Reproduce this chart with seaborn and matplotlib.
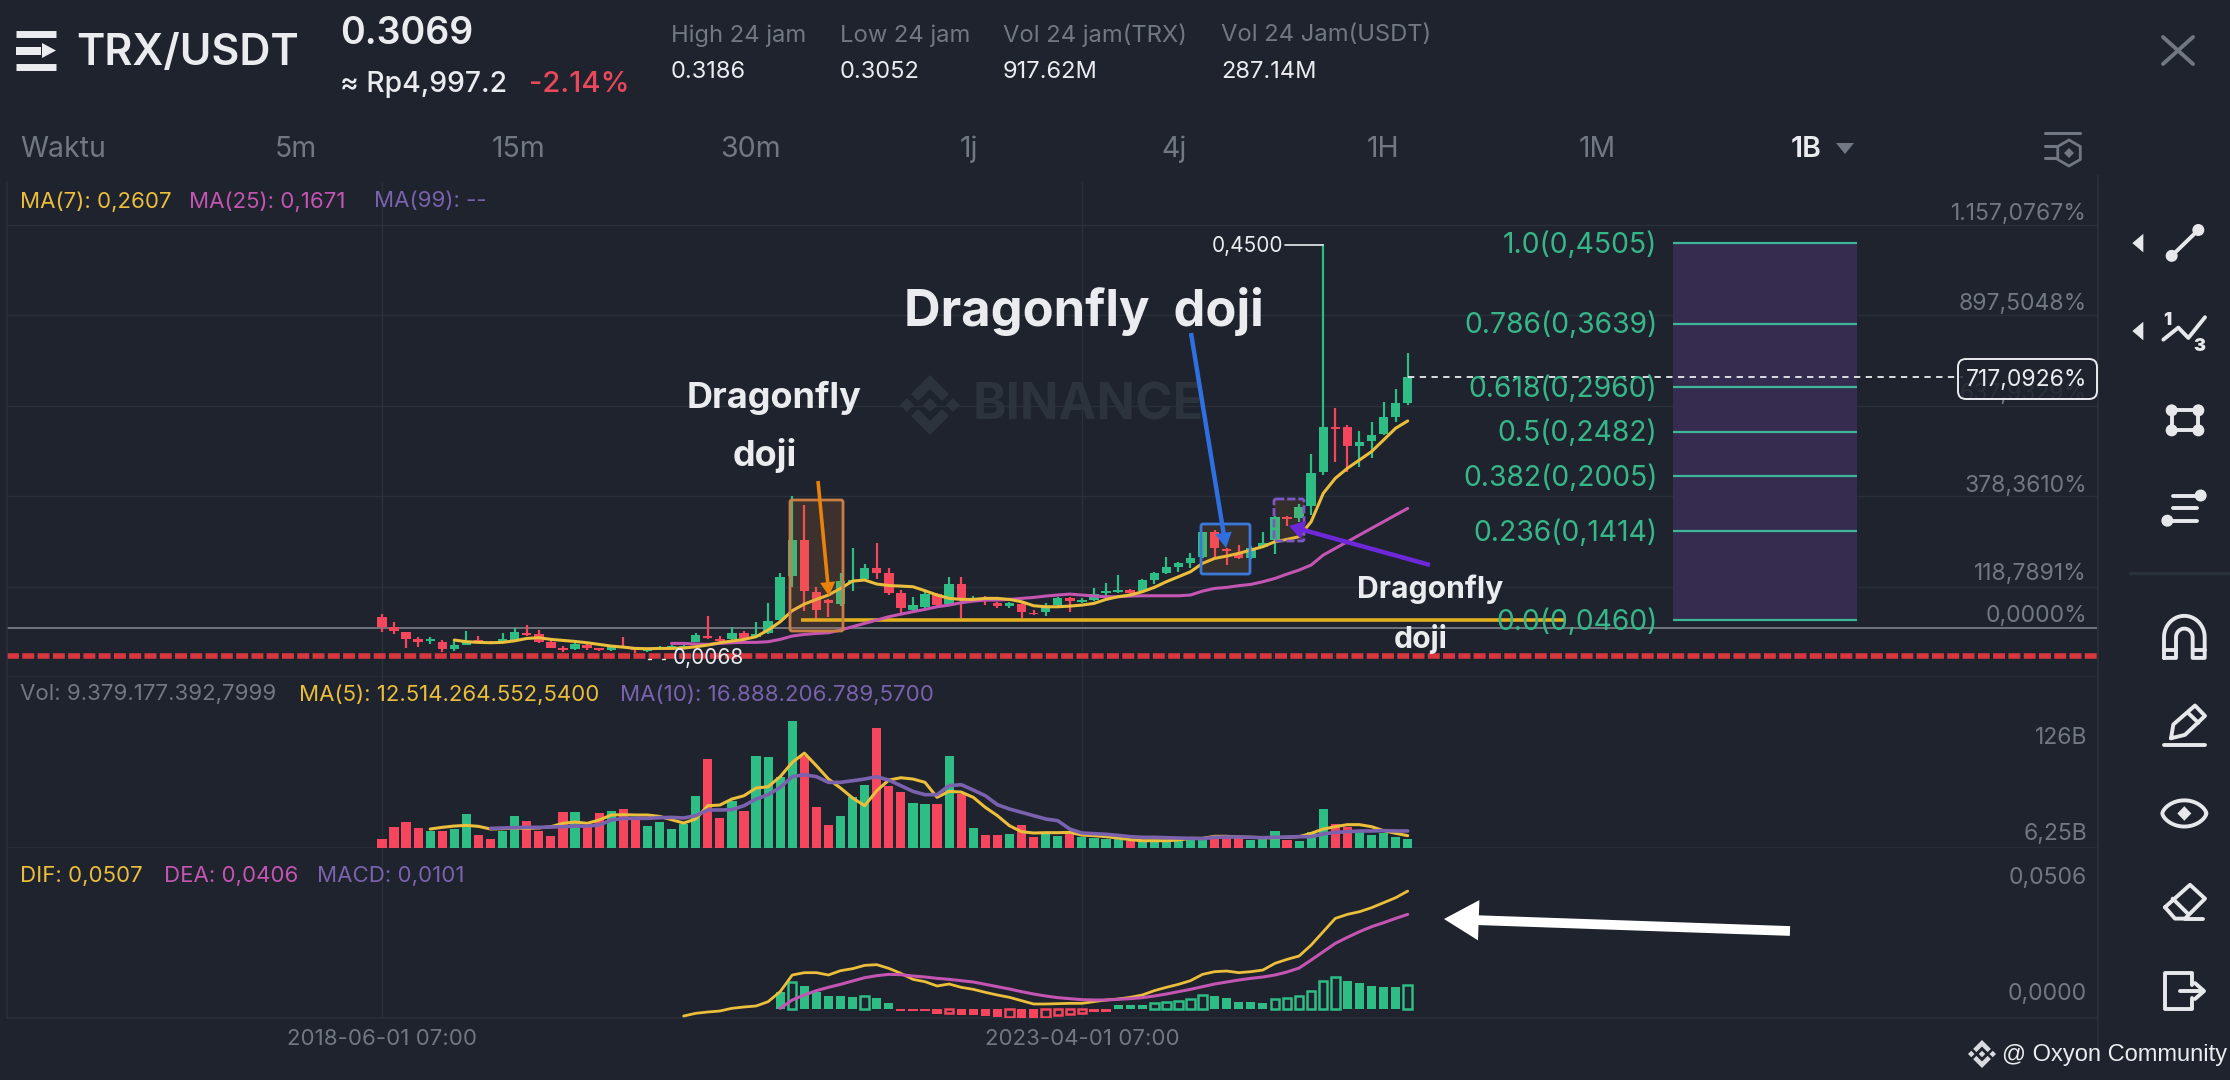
import matplotlib
matplotlib.use('Agg')
import matplotlib.pyplot as plt
import matplotlib.patches as mpatches
import numpy as np
import pandas as pd
import seaborn as sns

BG = '#1E232D'
GRID = '#2A303A'
GREEN = '#2EBD85'
RED = '#F6465D'
YELLOW = '#EBBE3C'
PINK = '#C455B2'
PURPLE = '#7A62AE'
GRAY = '#727883'
WHITE = '#EAECEF'
FIB = '#3FB69A'

# monthly candles
candle_open = [.0495, .0381, .0334, .0255, .0234, .0227, .0148, .0191, .0245, .0227,
               .0227, .0245, .0323, .0309, .0227, .0155, .0148, .0191, .0155, .0137,
               .0184, .0155, .0130, .0155, .0162, .0162, .0227, .0288, .0252, .0255,
               .0323, .0281, .0316, .0459, .0932, .1319, .0764, .0674, .0631, .0871,
               .0896, .1014, .0961, .0753, .0566, .0595, .0738, .0631, .0842, .0674,
               .0699, .0638, .0609, .0631, .0538, .0549, .0620, .0692, .0656, .0674,
               .0745, .0763, .0781, .0770, .0889, .0967, .1032, .1068, .1132, .1400,
               .1222, .1175, .1121, .1247, .1318, .1569, .1551, .1683, .2045, .2528,
               .2528, .2327, .2384, .2452, .2642, .2785]
candle_close = [.0381, .0345, .0255, .0227, .0252, .0144, .0191, .0234, .0220, .0209,
                .0255, .0334, .0298, .0227, .0162, .0134, .0198, .0162, .0137, .0180,
                .0173, .0137, .0155, .0173, .0184, .0180, .0298, .0263, .0234, .0323,
                .0270, .0309, .0452, .0925, .1319, .0771, .0567, .0638, .0878, .0889,
                .1014, .0961, .0753, .0584, .0620, .0738, .0620, .0842, .0692, .0692,
                .0674, .0609, .0638, .0549, .0520, .0613, .0692, .0667, .0674, .0738,
                .0770, .0781, .0753, .0889, .0967, .1032, .1075, .1121, .1400, .1229,
                .1204, .1121, .1229, .1290, .1562, .1544, .1676, .2034, .2535, .2507,
                .2327, .2374, .2445, .2642, .2785, .3069]
candle_high = [.0520, .0434, .0334, .0273, .0280, .0245, .0245, .0345, .0288, .0238,
               .0316, .0370, .0406, .0352, .0234, .0180, .0216, .0209, .0162, .0191,
               .0273, .0173, .0162, .0180, .0191, .0191, .0323, .0502, .0291, .0388,
               .0345, .0442, .0638, .0968, .1790, .1694, .0817, .0681, .0960, .1229,
               .1061, .1289, .1014, .0781, .0710, .0763, .0753, .0924, .0917, .0717,
               .0717, .0656, .0656, .0638, .0566, .0645, .0710, .0710, .0692, .0799,
               .0853, .0942, .0788, .0896, .0978, .1132, .1086, .1175, .1408, .1426,
               .1229, .1265, .1254, .1408, .1576, .1576, .1705, .2238, .4500, .2731,
               .2553, .2492, .2588, .2803, .2939, .3329]
candle_low = [.0334, .0309, .0162, .0173, .0202, .0112, .0123, .0191, .0209, .0202,
              .0220, .0238, .0288, .0209, .0155, .0116, .0137, .0137, .0130, .0130,
              .0162, .0109, .0119, .0144, .0148, .0151, .0220, .0252, .0220, .0245,
              .0259, .0273, .0309, .0452, .0817, .0560, .0477, .0488, .0610, .0771,
              .0889, .0896, .0728, .0523, .0559, .0584, .0584, .0620, .0477, .0656,
              .0620, .0584, .0584, .0477, .0513, .0502, .0602, .0549, .0638, .0667,
              .0717, .0753, .0738, .0763, .0846, .0953, .0978, .1014, .1121, .1121,
              .1050, .1111, .1111, .1229, .1168, .1469, .1515, .1587, .2017, .2159,
              .2052, .2105, .2195, .2445, .2581, .2767]

price_ma7 = [.0245, .0227, .0220, .0216, .0220, .0237, .0262, .0270, .0252, .0241,
             .0230, .0216, .0198, .0180, .0169, .0155, .0152, .0155, .0155, .0159,
             .0173, .0191, .0216, .0234, .0252, .0281, .0352, .0441, .0560, .0631,
             .0681, .0728, .0799, .0878, .0889, .0846, .0830, .0824, .0817, .0774,
             .0728, .0692, .0681, .0681, .0692, .0692, .0681, .0656, .0613, .0602,
             .0602, .0609, .0620, .0638, .0681, .0710, .0728, .0763, .0810, .0871,
             .0924, .0978, .1068, .1121, .1146, .1175, .1211, .1247, .1300, .1325,
             .1354, .1515, .1819, .1981, .2088, .2177, .2267, .2392, .2518, .2596]
price_ma25 = [.0209, .0209, .0202, .0198, .0209, .0216, .0220, .0220, .0227, .0252,
              .0288, .0305, .0316, .0323, .0352, .0388, .0424, .0459, .0495, .0523,
              .0549, .0574, .0602, .0620, .0645, .0663, .0674, .0674, .0681, .0692,
              .0702, .0717, .0728, .0738, .0728, .0717, .0710, .0710, .0717, .0720,
              .0720, .0720, .0720, .0728, .0770, .0799, .0810, .0828, .0842, .0871,
              .0906, .0953, .0996, .1050, .1157, .1229, .1300, .1372, .1444, .1515,
              .1587, .1658]

# volume in billions
volume = [11.1, 26.3, 32.5, 24.7, 21.4, 21.4, 23.4, 41.9, 16.0, 11.1,
          20.6, 39.5, 33.7, 21.4, 15.2, 44.4, 44.4, 25.5, 42.7, 46.0,
          48.5, 37.8, 27.1, 32.5, 23.8, 29.6, 64.1, 109.7, 37.0, 58.4,
          46.0, 113.8, 112.6, 87.1, 157.0, 113.8, 50.1, 28.4, 39.9, 63.3,
          78.1, 147.5, 76.0, 68.6, 55.5, 54.7, 53.8, 113.8, 66.6, 24.7,
          16.4, 15.6, 16.9, 28.8, 14.0, 17.3, 15.2, 18.1, 13.2, 12.3,
          11.5, 10.7, 8.2, 8.2, 8.2, 8.2, 9.0, 14.0, 10.3, 15.2,
          16.0, 14.0, 9.9, 10.7, 21.4, 9.9, 9.0, 20.1, 48.5, 29.6,
          25.5, 20.6, 16.0, 18.5, 13.2, 11.5]
volume_ma5 = [23.4, 25.5, 27.1, 27.9, 26.7, 23.4, 23.8, 24.7, 24.2, 24.7,
              26.3, 30.4, 32.1, 30.4, 34.5, 40.7, 41.1, 40.7, 40.7, 39.0,
              34.9, 30.8, 35.8, 52.2, 53.0, 60.4, 64.5, 74.0, 75.6, 88.0,
              105.6, 117.1, 101.5, 85.1, 74.0, 61.7, 52.2, 70.7, 83.8, 86.7,
              85.1, 81.0, 62.5, 69.9, 69.0, 62.5, 50.1, 39.9, 27.5, 20.1,
              18.5, 18.9, 18.9, 19.3, 16.0, 15.2, 14.0, 12.3, 10.3, 9.0,
              9.0, 9.0, 9.9, 11.9, 11.9, 14.4, 14.4, 13.6, 13.2, 12.7,
              12.7, 13.2, 14.0, 18.1, 23.4, 26.3, 28.8, 28.8, 26.3, 21.4,
              18.1, 15.2]
volume_ma10 = [24.2, 24.7, 25.1, 25.5, 25.5, 25.9, 26.3, 27.1, 27.1, 28.4,
               34.5, 36.6, 36.6, 36.6, 37.4, 37.8, 37.0, 39.9, 46.9, 46.9,
               47.3, 52.2, 60.4, 65.8, 74.8, 88.0, 90.4, 88.0, 81.0, 81.0,
               83.0, 85.1, 88.0, 83.8, 76.9, 69.9, 65.8, 65.8, 76.9, 78.1,
               71.5, 64.5, 53.4, 48.1, 44.0, 39.9, 35.8, 33.7, 23.4, 18.5,
               17.7, 16.9, 15.6, 14.0, 13.2, 13.2, 12.7, 12.3, 11.9, 11.5,
               13.2, 13.6, 13.6, 13.2, 12.7, 13.2, 13.6, 14.0, 14.0, 17.3,
               19.3, 20.1, 21.0, 21.0, 21.4, 21.0, 21.0]

macd_hist = [.00745, .01174, .00988, .00745, .00573, .00558, .00501, .00573, .00487, .00272,
             -.00086, -.00086, -.00086, -.00229, -.00172, -.00243, -.00258, -.00286, -.00329, -.00358,
             -.00372, -.00372, -.00344, -.00243, -.00200, -.00158, -.00115, -.00115, .00172, .00172,
             .00172, .00243, .00315, .00358, .00415, .00601, .00558, .00473, .00315, .00286,
             .00272, .00430, .00487, .00573, .00788, .01203, .01389, .01217, .01103, .00974,
             .00945, .00931, .01045]
macd_hollow = [0, 1, 0, 0, 0, 0, 0, 1, 0, 0,
               0, 0, 0, 0, 1, 0, 0, 0, 0, 1,
               0, 0, 1, 1, 1, 1, 0, 0, 0, 0,
               0, 1, 1, 1, 1, 1, 0, 0, 0, 0,
               0, 1, 1, 1, 1, 1, 1, 0, 0, 0,
               0, 0, 1]
macd_dif = [-.00301, -.00186, -.00129, -.00086, .00029, .00086, .00129, .00315, .00745, .01461,
            .01561, .01561, .01461, .01647, .01733, .01876, .01905, .01747, .01532, .01274,
            .01174, .00988, .01074, .00931, .00845, .00716, .00601, .00501, .00358, .00215,
            .00215, .00229, .00243, .00243, .00315, .00387, .00430, .00501, .00601, .00788,
            .00931, .01060, .01217, .01489, .01604, .01632, .01561, .01604, .01675, .01962,
            .02134, .02277, .02749, .03322, .03895, .04067, .04181, .04353, .04568, .04783,
            .05069]
macd_dea = [.00029, .00387, .00601, .00788, .00931, .01060, .01203, .01346, .01432, .01489,
            .01475, .01418, .01375, .01317, .01274, .01217, .01160, .01060, .00959, .00859,
            .00745, .00644, .00558, .00487, .00444, .00401, .00387, .00387, .00415, .00444,
            .00487, .00558, .00644, .00745, .00845, .00959, .01074, .01160, .01246, .01317,
            .01375, .01461, .01590, .01761, .02105, .02463, .02821, .03079, .03322, .03537,
            .03709, .03895, .04067]

fib_labels = ['1.0(0,4505)', '0.786(0,3639)', '0.618(0,2960)', '0.5(0,2482)',
              '0.382(0,2005)', '0.236(0,1414)', '0.0(0,0460)']
fib_prices = [.4505, .3639, .2960, .2482, .2005, .1414, .0460]
price_grid = [.4702, .3733, .2759, .1790, .0817]
date_ticks = [0, 58]
date_labels = ['2018-06-01 07:00', '2023-04-01 07:00']

W, H = 2230, 1080
sns.set_theme(style='dark', rc={'axes.facecolor': BG, 'figure.facecolor': BG})
plt.rcParams['font.family'] = ['Inter', 'DejaVu Sans']

fig = plt.figure(figsize=(W / 100, H / 100), dpi=100)


def panel(top, bottom):
    ax = fig.add_axes([7 / W, 1 - bottom / H, (2098 - 7) / W, (bottom - top) / H])
    ax.tick_params(length=0)
    ax.grid(True, axis='x', color=GRID, lw=1)
    for name, spine in ax.spines.items():
        spine.set_color(GRID)
        spine.set_linewidth(1.2)
    ax.spines['top'].set_visible(False)
    return ax


def finish(ax, ylim):
    ax.set_xlim(-31.07, 142.2)
    ax.set_ylim(*ylim)
    ax.set_xlabel('')
    ax.set_ylabel('')
    ax.set_yticks([])
    ax.set_xticks(date_ticks)
    ax.set_xticklabels([])


df = pd.DataFrame({'i': np.arange(len(candle_open)), 'o': candle_open, 'c': candle_close,
                   'h': candle_high, 'l': candle_low, 'vol': volume})
df['dir'] = np.where(df.c >= df.o, 'up', 'down')
colors = {'up': GREEN, 'down': RED}
n = len(df)

# price panel
ax = panel(182, 677)
for y in price_grid:
    ax.axhline(y, color=GRID, lw=1, zorder=0)
ax.axhline(.0378, color='#6F747D', lw=1.4, zorder=1)
ax.fill_between([107, 122.2], fib_prices[-1], fib_prices[0], color='#352C50', lw=0, zorder=1)
ax.hlines(fib_prices, 107, 122.2, color=FIB, lw=1.6, zorder=2)
for lab, p in zip(fib_labels, fib_prices):
    ax.text(105.7, p - .002, lab, color='#37B68A', fontsize=20.4, ha='right', va='center', zorder=6)
ax.hlines(.0460, 34.7, 98, color='#E2B11F', lw=2.6, zorder=5)
ax.axhline(.0074, color='#D9373F', lw=4, ls=(0, (2.15, 0.6)), zorder=2)
ax.vlines(df.i, df.l, df.h, color=df.dir.map(colors), lw=1.6, zorder=3)
ax.bar(df.i, (df.c - df.o).abs().clip(lower=.0012), bottom=df[['o', 'c']].min(axis=1), width=.78,
       color=df.dir.map(colors), linewidth=0, zorder=4)
sns.lineplot(x=np.arange(n - len(price_ma25), n), y=price_ma25, color=PINK, lw=2.2, ax=ax, zorder=5, legend=False)
sns.lineplot(x=np.arange(n - len(price_ma7), n), y=price_ma7, color=YELLOW, lw=2.2, ax=ax, zorder=5, legend=False)
ax.hlines(candle_close[-1], n - 1, 131, color=WHITE, lw=1.3, ls=(0, (3.5, 3)), zorder=5)
finish(ax, (-.01516, .516))

# volume panel
ax_vol = panel(677, 848)
sns.barplot(data=df, x='i', y='vol', hue='dir', palette=colors, native_scale=True, dodge=False,
            width=.76, legend=False, saturation=1, linewidth=0, ax=ax_vol, zorder=3)
sns.lineplot(x=np.arange(n - len(volume_ma5), n), y=volume_ma5, color=YELLOW, lw=2.2, ax=ax_vol, zorder=5, legend=False)
sns.lineplot(x=np.arange(n - len(volume_ma10), n), y=volume_ma10, color=PURPLE, lw=2.6, ax=ax_vol, zorder=5, legend=False)
finish(ax_vol, (0, 211))

# macd panel
ax_macd = panel(848, 1018)
mdf = pd.DataFrame({'i': np.arange(n - len(macd_hist), n), 'v': macd_hist, 'hollow': macd_hollow})
mdf['dir'] = np.where(mdf.v >= 0, 'up', 'down')
sns.barplot(data=mdf[mdf.hollow == 0], x='i', y='v', hue='dir', palette=colors, native_scale=True,
            dodge=False, width=.76, legend=False, saturation=1, linewidth=0, ax=ax_macd, zorder=3)
sns.barplot(data=mdf[mdf.hollow == 1], x='i', y='v', hue='dir', palette=colors, native_scale=True,
            dodge=False, width=.7, fill=False, linewidth=1.8, saturation=1, legend=False, ax=ax_macd, zorder=3)
sns.lineplot(x=np.arange(n - len(macd_dif), n), y=macd_dif, color=YELLOW, lw=2.0, ax=ax_macd, zorder=5, legend=False)
sns.lineplot(x=np.arange(n - len(macd_dea), n), y=macd_dea, color=PINK, lw=2.2, ax=ax_macd, zorder=5, legend=False)
finish(ax_macd, (-.00387, .0692))
ax_macd.set_xticklabels(date_labels, color=GRAY, fontsize=16)
ax_macd.tick_params(axis='x', length=0, pad=8)

# everything drawn on top, in picture pixels
ov = fig.add_axes([0, 0, 1, 1], zorder=10, facecolor='none')
ov.set_xlim(0, W)
ov.set_ylim(H, 0)
ov.axis('off')


def label(x, y, s, size=14, color=WHITE, ha='left', weight='normal', family=None, zorder=6):
    kw = {'family': family} if family else {}
    ov.text(x, y + 1.5, s, fontsize=size, color=color, ha=ha, va='center', weight=weight, zorder=zorder, **kw)


def binance_logo(cx, cy, half, color, zorder=1):
    k = half / 30
    chevron = np.array([(0, -30), (19, -11), (12, -4), (0, -16), (-12, -4), (-19, -11)], float)
    small = np.array([(0, -7), (7, 0), (0, 7), (-7, 0)], float)
    for pts in [chevron, chevron * [1, -1], small, small + [-23, 0], small + [23, 0]]:
        ov.add_patch(mpatches.Polygon(pts * k + [cx, cy], color=color, lw=0, zorder=zorder))


def arrow(start, end, color, width, head_w, head_l):
    ov.annotate('', xy=end, xytext=start, zorder=8,
                arrowprops=dict(width=width, headwidth=head_w, headlength=head_l, shrink=0,
                                color=color, lw=0))


def box(x0, y0, x1, y1, edge, face, ls='-'):
    ov.add_patch(mpatches.FancyBboxPatch((x0, y0), x1 - x0, y1 - y0, boxstyle='round,pad=0,rounding_size=2',
                                         fc=face, ec=edge, lw=2, ls=ls, zorder=7))


# header
for y in (33.5, 67):
    ov.plot([16, 56], [y, y], color=WHITE, lw=5, solid_capstyle='butt')
ov.add_patch(mpatches.Polygon([(42, 43), (56, 50.5), (42, 58)], color=WHITE, lw=0))
ov.add_patch(mpatches.Rectangle((16, 47), 25, 8, color=WHITE, lw=0))
label(76, 52, 'TRX/USDT', 31, WHITE, weight='semibold')
label(340, 32, '0.3069', 27, WHITE, weight='semibold')
label(340, 83, '≈ Rp4,997.2', 20.4, WHITE, weight='medium')
label(529, 83, '-2.14%', 21, '#E8485A', weight='medium')
for x, head, val in [(671, 'High 24 jam', '0.3186'), (840, 'Low 24 jam', '0.3052'),
                     (1003, 'Vol 24 jam(TRX)', '917.62M'), (1221, 'Vol 24 Jam(USDT)', '287.14M')]:
    label(x, 34, head, 17.1, GRAY)
    label(x, 71, val, 17, WHITE)

label(20, 148, 'Waktu', 20.5, GRAY)
for x, s in [(296, '5m'), (519, '15m'), (750, '30m'), (969, '1j'), (1174, '4j'), (1383, '1H'), (1597, '1M')]:
    label(x, 148, s, 20.5, GRAY, ha='center')
label(1806, 148, '1B', 20.5, WHITE, ha='center', weight='semibold')
ov.add_patch(mpatches.Polygon([(1836, 143), (1854, 143), (1845, 154)], color=GRAY, lw=0))
ov.plot([2045, 2080], [133, 133], color=GRAY, lw=2.2)
ov.plot([2045, 2056], [146, 146], color=GRAY, lw=2.2)
ov.plot([2045, 2056], [158, 158], color=GRAY, lw=2.2)
ov.add_patch(mpatches.RegularPolygon((2069, 153), 6, radius=13, fc='none', ec=GRAY, lw=2))
ov.add_patch(mpatches.RegularPolygon((2069, 153), 4, radius=5, color=GRAY, lw=0))
ov.plot([2163, 2193], [37, 64], color=GRAY, lw=2.8)
ov.plot([2163, 2193], [64, 37], color=GRAY, lw=2.8)

# indicator rows
for x, s, c in [(20, 'MA(7): 0,2607', YELLOW), (189, 'MA(25): 0,1671', PINK), (374, 'MA(99): --', PURPLE)]:
    label(x, 200, s, 16, c)
for x, s, c in [(20, 'Vol: 9.379.177.392,7999', GRAY), (299, 'MA(5): 12.514.264.552,5400', YELLOW),
                (620, 'MA(10): 16.888.206.789,5700', PURPLE)]:
    label(x, 693, s, 16, c)
for x, s, c in [(20, 'DIF: 0,0507', YELLOW), (164, 'DEA: 0,0406', PINK), (317, 'MACD: 0,0101', PURPLE)]:
    label(x, 875, s, 16, c)

# right scale
for y, s in [(213, '1.157,0767%'), (303, '897,5048%'), (484, '378,3610%'),
             (573, '118,7891%'), (615, '0,0000%'), (736, '126B'), (833, '6,25B'), (876, '0,0506'), (993, '0,0000')]:
    label(2087, y, s, 16.5, GRAY, ha='right')
label(2087, 393, '637,9329%', 16.5, GRAY, ha='right', zorder=4)
ov.add_patch(mpatches.FancyBboxPatch((1958, 359), 139, 40, boxstyle='round,pad=0,rounding_size=8',
                                     fc=(30 / 255, 35 / 255, 45 / 255, .85), ec=WHITE, lw=1.4, zorder=5))
label(2087, 378, '717,0926%', 16.5, WHITE, ha='right')

# watermark and annotations
binance_logo(930, 405, 30, '#2D333D')
label(973, 405, 'BINANCE', 36.5, '#2D333D', weight='bold', zorder=1)

label(708, 657, '0,0068', 15, WHITE, ha='center')
ov.plot([648, 651], [659, 659], color=WHITE, lw=1)
ov.plot([662, 665], [659, 659], color=WHITE, lw=1)
label(1283, 245, '0,4500', 15, WHITE, ha='right')
ov.plot([1285, 1323], [245, 245], color=WHITE, lw=1.2)

box(790, 500, 843, 631, '#C97E45', (.85, .5, .2, .16))
box(1201, 524, 1250, 574, '#3C78D8', (.85, .5, .2, .12))
box(1274, 499, 1304, 541, '#7E57C2', (.85, .5, .2, .12), ls=(0, (3, 1)))

arrow((818, 481), (829, 596), '#E8820C', 2.6, 11, 10)
arrow((1191, 333), (1226, 548), '#2F6FE0', 3.2, 12, 11)
arrow((1430, 565), (1289, 526), '#6D28D9', 3.2, 14, 11)
arrow((1790, 931), (1444, 919), '#FFFFFF', 7, 29, 25)

label(1084, 310, 'Dragonfly  doji', 36.5, WHITE, ha='center', weight='bold', zorder=9)
label(774, 396, 'Dragonfly', 26, WHITE, ha='center', weight='bold', zorder=9)
label(765, 454, 'doji', 26, WHITE, ha='center', weight='bold', zorder=9)
label(1430, 588, 'Dragonfly', 21.7, WHITE, ha='center', weight='bold', zorder=9)
label(1421, 638, 'doji', 21.7, WHITE, ha='center', weight='bold', zorder=9)

# toolbar on the right
ov.plot([2130, 2230], [573, 573], color=GRID, lw=2.5)
ov.vlines(2098, 175, 1050, color=GRID, lw=1.2)
ICON = '#E6E8EC'


def zp(x, y, base=0):
    return 1880 + x / 3, base + y / 2.9


def icon_line(points, base=0, lw=2.8):
    xs, ys = zip(*[zp(x, y, base) for x, y in points])
    ov.plot(xs, ys, color=ICON, lw=lw, solid_capstyle='round', solid_joinstyle='round')


def icon_dot(x, y, r=6, base=0):
    ov.add_patch(mpatches.Circle(zp(x, y, base), r, color=ICON, lw=0))


for y in (705, 960):
    ov.add_patch(mpatches.Polygon([zp(790, y - 27), zp(790, y + 27), zp(757, y)], color=ICON, lw=0))
icon_line([(875, 742), (955, 667)])
icon_dot(875, 742)
icon_dot(955, 667)
icon_line([(850, 985), (895, 950), (925, 980), (975, 920)])
label(*zp(862, 925), '1', 13, ICON, ha='center', weight='black')
label(*zp(958, 1000), '3', 13, ICON, ha='center', weight='black')
icon_line([(875, 1190), (955, 1190), (955, 1248), (875, 1248), (875, 1190)])
for x, y in [(875, 1190), (955, 1190), (875, 1248), (955, 1248)]:
    icon_dot(x, y)
icon_line([(880, 1437), (960, 1437)])
icon_line([(880, 1473), (950, 1473)])
icon_line([(860, 1510), (950, 1510)])
icon_dot(962, 1437)
icon_dot(862, 1510)

B = 540
theta = np.linspace(np.pi, 0, 30)
outer = list(zip(913 + 61 * np.cos(theta), 282 - 62 * np.sin(theta)))
inner = list(zip(913 + 25 * np.cos(theta[::-1]), 282 - 25 * np.sin(theta[::-1])))
icon_line([(852, 342)] + outer + [(974, 342), (938, 342)] + inner + [(888, 342), (852, 342)], B)
icon_line([(852, 320), (888, 320)], B)
icon_line([(938, 320), (974, 320)], B)
icon_line([(873, 575), (880, 535), (945, 480), (975, 510), (915, 565), (873, 575)], B)
icon_line([(925, 502), (955, 530)], B)
icon_line([(853, 594), (975, 594)], B)
phi = np.linspace(0, 2 * np.pi, 60)
eye = [(913 + 66 * np.cos(a), 793 - 38 * np.sin(a) * abs(np.sin(a)) ** .3) for a in phi]
icon_line(eye, B)
ov.add_patch(mpatches.Polygon([zp(x, y, B) for x, y in [(913, 772), (934, 793), (913, 814), (892, 793)]], color=ICON, lw=0))
icon_line([(855, 1065), (930, 1000), (975, 1040), (915, 1098), (885, 1098), (855, 1065)], B)
icon_line([(878, 1040), (925, 1085)], B)
icon_line([(915, 1098), (970, 1098)], B)
icon_line([(935, 1290), (935, 1256), (856, 1256), (856, 1360), (935, 1360), (935, 1328)], B)
icon_line([(900, 1308), (970, 1308)], B)
icon_line([(945, 1285), (972, 1308), (945, 1331)], B)

binance_logo(1982, 1054, 14, '#D8DADF', zorder=6)
label(2002, 1053, '@ Oxyon Community', 17, WHITE, family='Liberation Sans')

fig.savefig('out.png', dpi=100, facecolor=BG)
